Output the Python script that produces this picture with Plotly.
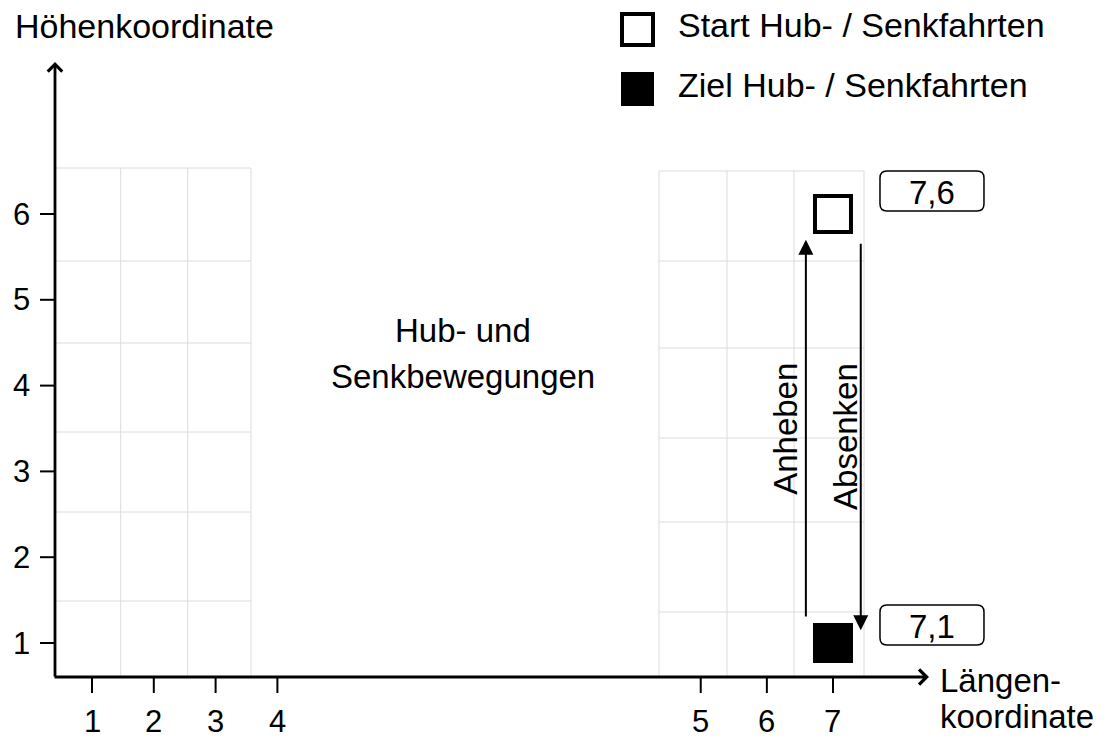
import plotly.graph_objects as go

# ---------------- data ----------------
x_tick_labels = ["1", "2", "3", "4", "5", "6", "7"]
x_values = [1, 2, 3, 4, 5, 6, 7]
y_tick_labels = ["1", "2", "3", "4", "5", "6"]
y_values = [1, 2, 3, 4, 5, 6]

start_point = [7, 6]    # Start Hub- / Senkfahrten
target_point = [7, 1]   # Ziel Hub- / Senkfahrten

lift_arrow_x = 6.59                 # Anheben
lift_arrow_y = [1.29, 5.70]
lower_arrow_x = 7.42                # Absenken
lower_arrow_y = [5.67, 1.15]

# ---------------- layout helpers (broken axis) ----------------
W, H = 1110, 740
FONT = "Liberation Sans, Arial, Helvetica, sans-serif"
PX_X, PX_Y = 61.8, 85.8
X0 = 1 - 92 / PX_X
X_RANGE = [X0, X0 + W / PX_X]
Y_RANGE = [1 - (H - 643) / PX_Y, 1 + 643 / PX_Y]
x_axis_pos = [1, 2, 3, 4, 10.85, 11.9, 12.99]   # axis break between 4 and 5


def lpos(v):
    if v <= 4:
        return v
    slope = (x_axis_pos[6] - x_axis_pos[4]) / 2
    return x_axis_pos[4] + (v - 5) * slope


def x2px(p):
    return (p - X_RANGE[0]) * PX_X


def y2px(v):
    return 643 - (v - 1) * PX_Y


def px2x(px):
    return X_RANGE[0] + px / PX_X


def px2y(py):
    return 1 + (643 - py) / PX_Y


def pap_x(px):
    return px / W


def pap_y(py):
    return 1 - py / H


fig = go.Figure()
shapes = []
ann = []
GRID = "#dcdcdc"

# grid blocks (px geometry)
left_v = [120.7, 187.7, 251]
left_h = [168, 261, 343, 432, 512, 601]
for xv in left_v:
    shapes.append(dict(type="line", xref="x", yref="y", x0=px2x(xv), x1=px2x(xv),
                       y0=px2y(677), y1=px2y(168), line=dict(color=GRID, width=1), layer="below"))
for yh in left_h:
    shapes.append(dict(type="line", xref="x", yref="y", x0=px2x(55), x1=px2x(251),
                       y0=px2y(yh), y1=px2y(yh), line=dict(color=GRID, width=1), layer="below"))
right_v = [659, 727, 794, 864]
right_h = [171, 261, 348, 438, 522, 612]
for xv in right_v:
    shapes.append(dict(type="line", xref="x", yref="y", x0=px2x(xv), x1=px2x(xv),
                       y0=px2y(677), y1=px2y(171), line=dict(color=GRID, width=1), layer="below"))
for yh in right_h:
    shapes.append(dict(type="line", xref="x", yref="y", x0=px2x(659), x1=px2x(864),
                       y0=px2y(yh), y1=px2y(yh), line=dict(color=GRID, width=1), layer="below"))

# axes with open arrowheads
ann.append(dict(x=px2x(929), y=px2y(677), ax=px2x(53), ay=px2y(677), axref="x", ayref="y",
                xref="x", yref="y", text="", showarrow=True, arrowhead=4, arrowsize=1.05,
                arrowwidth=2.8, arrowcolor="black"))
ann.append(dict(x=px2x(55), y=px2y(62), ax=px2x(55), ay=px2y(678), axref="x", ayref="y",
                xref="x", yref="y", text="", showarrow=True, arrowhead=4, arrowsize=1.0,
                arrowwidth=2.8, arrowcolor="black"))

# ticks and tick labels
for v, lab in zip(x_values, x_tick_labels):
    p = lpos(v)
    shapes.append(dict(type="line", xref="x", yref="y", x0=p, x1=p, y0=px2y(677), y1=px2y(693),
                       line=dict(color="black", width=2)))
    ann.append(dict(x=p, y=0, xref="x", yref="paper", text=lab, showarrow=False, borderpad=0,
                    font=dict(family=FONT, size=31, color="black"), xanchor="center", yanchor="bottom"))
for v, lab in zip(y_values, y_tick_labels):
    shapes.append(dict(type="line", xref="x", yref="y", x0=px2x(40), x1=px2x(55), y0=v, y1=v,
                       line=dict(color="black", width=2)))
    ann.append(dict(x=px2x(21), y=v, xref="x", yref="y", text=lab, showarrow=False,
                    font=dict(family=FONT, size=31, color="black"), xanchor="center", yanchor="middle"))

# axis titles
ann.append(dict(x=pap_x(13), y=pap_y(26), xref="paper", yref="paper", text="Höhenkoordinate",
                showarrow=False, font=dict(family=FONT, size=34, color="black"),
                xanchor="left", yanchor="middle"))
ann.append(dict(x=pap_x(938), y=pap_y(680), xref="paper", yref="paper", text="Längen-",
                showarrow=False, font=dict(family=FONT, size=33, color="black"),
                xanchor="left", yanchor="middle"))
ann.append(dict(x=pap_x(938), y=pap_y(716), xref="paper", yref="paper", text="koordinate",
                showarrow=False, font=dict(family=FONT, size=33, color="black"),
                xanchor="left", yanchor="middle"))

# middle text
ann.append(dict(x=pap_x(463), y=pap_y(330), xref="paper", yref="paper", text="Hub- und",
                showarrow=False, font=dict(family=FONT, size=33, color="black"),
                xanchor="center", yanchor="middle"))
ann.append(dict(x=pap_x(463), y=pap_y(376), xref="paper", yref="paper", text="Senkbewegungen",
                showarrow=False, font=dict(family=FONT, size=33, color="black"),
                xanchor="center", yanchor="middle"))

# points
fig.add_trace(go.Scatter(x=[lpos(start_point[0])], y=[start_point[1]], mode="markers",
                         marker=dict(symbol="square", size=36, color="white",
                                     line=dict(color="black", width=4)),
                         showlegend=False, hoverinfo="skip"))
fig.add_trace(go.Scatter(x=[lpos(target_point[0])], y=[target_point[1]], mode="markers",
                         marker=dict(symbol="square", size=40, color="black",
                                     line=dict(color="black", width=0)),
                         showlegend=False, hoverinfo="skip"))

# movement arrows
for xa, ys, label, shift in [(lift_arrow_x, lift_arrow_y, "Anheben", -20),
                             (lower_arrow_x, lower_arrow_y, "Absenken", -16)]:
    p = lpos(xa)
    ann.append(dict(x=p, y=ys[1], ax=p, ay=ys[0], axref="x", ayref="y", xref="x", yref="y",
                    text="", showarrow=True, arrowhead=2, arrowsize=1.5, arrowwidth=2,
                    arrowcolor="black"))
    ann.append(dict(x=p, y=(ys[0] + ys[1]) / 2, xref="x", yref="y", text=label, textangle=-90,
                    xshift=shift, showarrow=False, font=dict(family=FONT, size=33, color="black"),
                    xanchor="center", yanchor="middle"))


# coordinate labels in rounded boxes
def rounded_box(x0, y0, x1, y1, r):
    X = pap_x
    Y = pap_y
    pts = [
        f"M {X(x0 + r)},{Y(y0)}",
        f"L {X(x1 - r)},{Y(y0)}",
        f"Q {X(x1)},{Y(y0)} {X(x1)},{Y(y0 + r)}",
        f"L {X(x1)},{Y(y1 - r)}",
        f"Q {X(x1)},{Y(y1)} {X(x1 - r)},{Y(y1)}",
        f"L {X(x0 + r)},{Y(y1)}",
        f"Q {X(x0)},{Y(y1)} {X(x0)},{Y(y1 - r)}",
        f"L {X(x0)},{Y(y0 + r)}",
        f"Q {X(x0)},{Y(y0)} {X(x0 + r)},{Y(y0)} Z",
    ]
    return " ".join(pts)


for pt, dy in [(start_point, -23), (target_point, -18)]:
    cx = x2px(lpos(pt[0])) + 99
    cy = y2px(pt[1]) + dy
    shapes.append(dict(type="path", xref="paper", yref="paper",
                       path=rounded_box(cx - 52, cy - 20, cx + 52, cy + 20, 7),
                       line=dict(color="black", width=1.5), fillcolor="white"))
    ann.append(dict(x=pap_x(cx), y=pap_y(cy + 1), xref="paper", yref="paper",
                    text=f"{pt[0]},{pt[1]}", showarrow=False,
                    font=dict(family=FONT, size=33, color="black"), xanchor="center", yanchor="middle"))

# legend (drawn manually)
shapes.append(dict(type="rect", xref="paper", yref="paper", x0=pap_x(622), x1=pap_x(653),
                   y0=pap_y(45), y1=pap_y(14), line=dict(color="black", width=4), fillcolor="white"))
shapes.append(dict(type="rect", xref="paper", yref="paper", x0=pap_x(621), x1=pap_x(654),
                   y0=pap_y(106), y1=pap_y(72), line=dict(color="black", width=0), fillcolor="black"))
ann.append(dict(x=pap_x(676), y=pap_y(25), xref="paper", yref="paper", text="Start Hub- / Senkfahrten",
                showarrow=False, font=dict(family=FONT, size=34, color="black"),
                xanchor="left", yanchor="middle"))
ann.append(dict(x=pap_x(676), y=pap_y(85), xref="paper", yref="paper", text="Ziel Hub- / Senkfahrten",
                showarrow=False, font=dict(family=FONT, size=34, color="black"),
                xanchor="left", yanchor="middle"))

fig.update_layout(
    width=W, height=H, margin=dict(l=0, r=0, t=0, b=0),
    paper_bgcolor="white", plot_bgcolor="white",
    xaxis=dict(range=X_RANGE, visible=False, fixedrange=True),
    yaxis=dict(range=Y_RANGE, visible=False, fixedrange=True),
    shapes=shapes, annotations=ann, showlegend=False,
)

fig.write_html("out.html", include_plotlyjs=True, config={"displayModeBar": False},
               post_script="document.body.style.margin='0';document.body.style.overflow='hidden';")
